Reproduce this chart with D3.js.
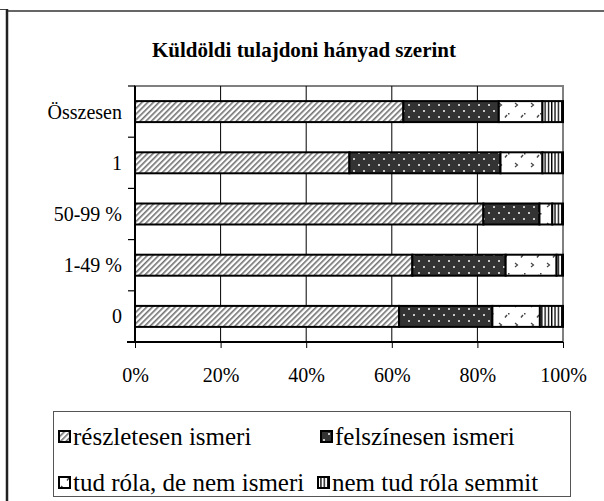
<!DOCTYPE html>
<html><head><meta charset="utf-8">
<script src="https://cdn.jsdelivr.net/npm/d3@7"></script>
<style>body{margin:0;background:#fff;}svg{display:block;}text{font-family:"Liberation Serif","Times New Roman",serif;fill:#000;}</style>
</head><body>
<script>
const categories = ["Összesen", "1", "50-99 %", "1-49 %", "0"];
const seriesNames = ["részletesen ismeri", "felszínesen ismeri", "tud róla, de nem ismeri", "nem tud róla semmit"];
const reszletesen = [62.7, 50.1, 81.4, 64.8, 61.7];
const felszinesen = [22.3, 35.3, 13.1, 21.8, 21.8];
const tudRola = [10.2, 9.8, 3.0, 11.9, 11.1];
const nemTud = [4.8, 4.8, 2.5, 1.5, 5.4];
const tickValues = [0, 0.2, 0.4, 0.6, 0.8, 1.0];
const chartTitle = "Küldöldi tulajdoni hányad szerint";

(function(){
const W = 604, H = 501;
const svg = d3.select("body").append("svg").attr("width", W).attr("height", H);
const defs = svg.append("defs");

// patterns
const p1 = defs.append("pattern").attr("id","pat0").attr("patternUnits","userSpaceOnUse")
  .attr("width",4).attr("height",4).attr("patternTransform","rotate(45)");
p1.append("rect").attr("width",4).attr("height",4).attr("fill","#fff");
p1.append("rect").attr("x",0).attr("width",1.6).attr("height",4).attr("fill","#707070");

const p2 = defs.append("pattern").attr("id","pat1").attr("patternUnits","userSpaceOnUse")
  .attr("width",10).attr("height",12);
p2.append("rect").attr("width",10).attr("height",12).attr("fill","#333");
p2.append("rect").attr("x",3).attr("y",2).attr("width",2).attr("height",2).attr("fill","#c8c8c8");
p2.append("rect").attr("x",8).attr("y",8).attr("width",2).attr("height",2).attr("fill","#c8c8c8");

const p3 = defs.append("pattern").attr("id","pat2").attr("patternUnits","userSpaceOnUse")
  .attr("width",16).attr("height",20);
p3.append("rect").attr("width",16).attr("height",20).attr("fill","#fff");
p3.append("path").attr("d","M3,3 L5.5,5 L3,7").attr("stroke","#444").attr("stroke-width",1.2).attr("fill","none");
p3.append("path").attr("d","M11,15 L9,17.5").attr("stroke","#444").attr("stroke-width",1.4).attr("fill","none");
p3.append("rect").attr("x",12).attr("y",13).attr("width",1.5).attr("height",1.5).attr("fill","#444");

const p4 = defs.append("pattern").attr("id","pat3").attr("patternUnits","userSpaceOnUse")
  .attr("width",3.3).attr("height",4);
p4.append("rect").attr("width",3.3).attr("height",4).attr("fill","#fff");
p4.append("rect").attr("x",0).attr("width",1.3).attr("height",4).attr("fill","#000");

const fills = ["url(#pat0)","url(#pat1)","url(#pat2)","url(#pat3)"];

// outer frame
svg.append("line").attr("x1",7).attr("x2",7).attr("y1",9).attr("y2",H).attr("stroke","#222").attr("stroke-width",2.5);
svg.append("line").attr("x1",0).attr("x2",6).attr("y1",9.5).attr("y2",9.5).attr("stroke","#444").attr("stroke-width",1);
svg.append("line").attr("x1",8).attr("x2",W).attr("y1",11).attr("y2",11).attr("stroke","#333").attr("stroke-width",1.5);

// title
svg.append("text").attr("x",304).attr("y",57).attr("text-anchor","middle")
  .style("font-size","21px").style("font-weight","bold").text(chartTitle);

const pL = 135, pR = 563, pT = 86, pB = 342;
const x = d3.scaleLinear().domain([0,1]).range([pL,pR]);
const y = d3.scaleBand().domain(categories).range([pT,pB]).paddingInner(0.59).paddingOuter(0.295);

// plot border (gray)
svg.append("rect").attr("x",pL).attr("y",pT).attr("width",pR-pL).attr("height",pB-pT)
  .attr("fill","none").attr("stroke","#808080").attr("stroke-width",2);

// gridlines
svg.append("g").selectAll("line").data(tickValues.slice(1,-1)).join("line")
  .attr("x1",d=>x(d)).attr("x2",d=>x(d)).attr("y1",pT).attr("y2",pB)
  .attr("stroke","#000").attr("stroke-width",1);

// stacked data
const table = categories.map((c,i)=>({cat:c, s0:reszletesen[i]/100, s1:felszinesen[i]/100, s2:tudRola[i]/100, s3:nemTud[i]/100}));
const stack = d3.stack().keys(["s0","s1","s2","s3"])(table);
svg.append("g").selectAll("g").data(stack).join("g")
  .attr("fill",(d,i)=>fills[i])
  .selectAll("rect").data(d=>d).join("rect")
  .attr("x",d=>x(d[0])).attr("width",d=>x(d[1])-x(d[0]))
  .attr("y",d=>y(d.data.cat)).attr("height",y.bandwidth())
  .attr("stroke","#000").attr("stroke-width",2);

// x axis
const xAxis = d3.axisBottom(x).tickValues(tickValues).tickFormat(d3.format(".0%")).tickSize(6).tickPadding(20);
const gx = svg.append("g").attr("transform",`translate(0,${pB})`).call(xAxis);
gx.attr("font-family",null).attr("font-size",null);
gx.select(".domain").remove();
gx.selectAll(".tick line").attr("stroke","#000").attr("stroke-width",1);
gx.selectAll("text").style("font-size","20px");
svg.append("line").attr("x1",pL-8).attr("x2",pR).attr("y1",pB).attr("y2",pB).attr("stroke","#000").attr("stroke-width",2);

// y axis
svg.append("line").attr("x1",pL).attr("x2",pL).attr("y1",pT).attr("y2",pB).attr("stroke","#000").attr("stroke-width",2);
const bounds = d3.range(categories.length+1).map(i=>pT + i*y.step());
svg.append("g").selectAll("line").data(bounds).join("line")
  .attr("x1",pL-7).attr("x2",pL).attr("y1",d=>d).attr("y2",d=>d).attr("stroke","#000").attr("stroke-width",1.2);
svg.append("g").selectAll("text").data(categories).join("text")
  .attr("x",122).attr("y",d=>y(d)+y.bandwidth()/2+7).attr("text-anchor","end")
  .style("font-size","20px").text(d=>d);

// legend
svg.append("rect").attr("x",53.5).attr("y",411.5).attr("width",517).attr("height",85)
  .attr("fill","#fff").attr("stroke","#555").attr("stroke-width",1);
const legPos = [[58,437],[320,437],[58,483],[317,483]];
const lg = svg.append("g").selectAll("g").data(seriesNames).join("g")
  .attr("transform",(d,i)=>`translate(${legPos[i][0]},${legPos[i][1]})`);
lg.append("rect").attr("x",1).attr("y",-6).attr("width",11).attr("height",11)
  .attr("fill",(d,i)=>fills[i]).attr("stroke","#000").attr("stroke-width",2);
lg.append("text").attr("x",15).attr("y",8).style("font-size","25px").text(d=>d);
})();
</script>
</body></html>
